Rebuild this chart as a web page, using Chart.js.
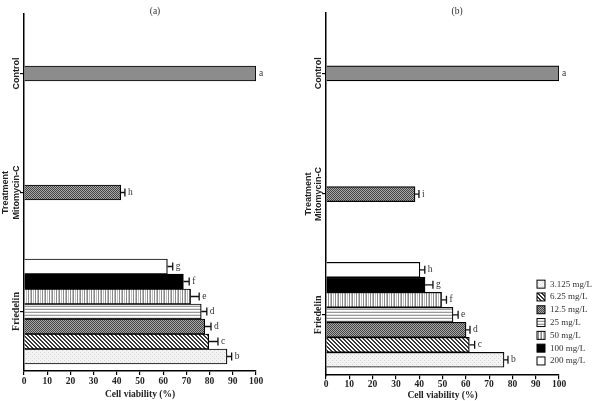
<!DOCTYPE html>
<html>
<head>
<meta charset="utf-8">
<script src="https://cdn.jsdelivr.net/npm/chart.js@4.4.1/dist/chart.umd.min.js"></script>
<style>
  html, body { margin: 0; padding: 0; background: #fff; }
  #wrap { position: relative; width: 603px; height: 401px; }
  #chartA { position: absolute; left: 0; top: 0; }
  #chartB { position: absolute; left: 300px; top: 0; }
</style>
</head>
<body>
<div id="wrap">
  <canvas id="chartA" width="300" height="401"></canvas>
  <canvas id="chartB" width="303" height="401"></canvas>
</div>
<script>
// categories on the y axis
var categories = ['Control', 'Mitomycin-C', 'Friedelin'];
var yTitle = 'Treatment';
var xTitle = 'Cell viability (%)';
var concentrations = ['3.125 mg/L', '6.25 mg/L', '12.5 mg/L', '25 mg/L', '50 mg/L', '100 mg/L', '200 mg/L'];

// panel (a)
var controlA = 100;
var mitoA = 41.7, mitoErrA = 1.8, mitoLetterA = 'h';
var friedelinA = [87.5, 79.6, 77.9, 76.4, 71.8, 68.7, 61.8];
var friedelinErrA = [2.0, 4.0, 2.7, 2.4, 3.7, 2.5, 2.3];
var lettersA = ['b', 'c', 'd', 'd', 'e', 'f', 'g'];

// panel (b)
var controlB = 100;
var mitoB = 38.2, mitoErrB = 1.7, mitoLetterB = 'i';
var friedelinB = [76.4, 61.5, 60.1, 54.5, 49.6, 42.5, 40.3];
var friedelinErrB = [1.7, 2.3, 1.7, 2.2, 2.1, 3.4, 2.1];
var lettersB = ['b', 'c', 'd', 'e', 'f', 'g', 'h'];

function pattern(w, h, draw) {
  var c = document.createElement('canvas');
  c.width = w; c.height = h;
  var g = c.getContext('2d');
  draw(g);
  return g.createPattern(c, 'repeat');
}

var fills = {
  dots: pattern(4, 4, function (g) {
    g.fillStyle = '#f3f3f3'; g.fillRect(0, 0, 4, 4);
    g.fillStyle = '#d4d4d4'; g.fillRect(0, 0, 1, 1); g.fillRect(2, 2, 1, 1);
  }),
  diag: pattern(4, 4, function (g) {
    g.fillStyle = '#fff'; g.fillRect(0, 0, 4, 4);
    g.fillStyle = '#3a3a3a';
    for (var y = 0; y < 4; y++) { g.fillRect(y % 4, y, 1, 1); g.fillRect((y + 1) % 4, y, 1, 1); }
  }),
  check: pattern(2, 2, function (g) {
    g.fillStyle = '#a8a8a8'; g.fillRect(0, 0, 2, 2);
    g.fillStyle = '#454545'; g.fillRect(0, 0, 1, 1); g.fillRect(1, 1, 1, 1);
  }),
  hlines: pattern(1, 3, function (g) {
    g.fillStyle = '#fff'; g.fillRect(0, 0, 1, 3);
    g.fillStyle = '#9a9a9a'; g.fillRect(0, 0, 1, 1);
    g.fillStyle = '#e2e2e2'; g.fillRect(0, 2, 1, 1);
  }),
  vlines: pattern(7, 1, function (g) {
    g.fillStyle = '#fff'; g.fillRect(0, 0, 7, 1);
    g.fillStyle = '#8a8a8a'; g.fillRect(0, 0, 1, 1); g.fillRect(3, 0, 1, 1);
    g.fillStyle = '#bdbdbd'; g.fillRect(2, 0, 1, 1); g.fillRect(5, 0, 1, 1);
  })
};
var concFills = [fills.dots, fills.diag, fills.check, fills.hlines, fills.vlines, '#000', '#fff'];

function buildDatasets(control, mito, mitoErr, mitoLetter, fried, friedErr, letters) {
  var ds = [];
  ds.push({ label: 'Control', data: [control, null, null], errs: [0, null, null],
            letters: ['a', null, null], backgroundColor: '#8c8c8c' });
  ds.push({ label: 'Mitomycin-C', data: [null, mito, null], errs: [null, mitoErr, null],
            letters: [null, mitoLetter, null], backgroundColor: fills.check });
  // top bar is 200 mg/L, bottom is 3.125 mg/L
  for (var i = concentrations.length - 1; i >= 0; i--) {
    ds.push({ label: concentrations[i], data: [null, null, fried[i]], errs: [null, null, friedErr[i]],
              letters: [null, null, letters[i]], backgroundColor: concFills[i] });
  }
  ds.forEach(function (d) {
    d.borderColor = '#000';
    d.borderWidth = 1.2;
    d.barThickness = 15;
    d.skipNull = true;
  });
  return ds;
}

var marksPlugin = {
  id: 'marks',
  afterDatasetsDraw: function (chart) {
    var ctx = chart.ctx, xs = chart.scales.x;
    ctx.save();
    chart.data.datasets.forEach(function (ds, di) {
      var meta = chart.getDatasetMeta(di);
      ds.data.forEach(function (v, i) {
        if (v === null) return;
        var bar = meta.data[i];
        var end = bar.x;
        var err = ds.errs[i];
        if (err) {
          var ex = xs.getPixelForValue(v + err);
          ctx.strokeStyle = '#111';
          ctx.lineWidth = 1.3;
          ctx.beginPath();
          ctx.moveTo(end, bar.y); ctx.lineTo(ex, bar.y);
          ctx.moveTo(ex, bar.y - 4); ctx.lineTo(ex, bar.y + 4);
          ctx.stroke();
          end = ex;
        }
        ctx.fillStyle = '#333';
        ctx.font = '9.5px "Liberation Serif"';
        ctx.textBaseline = 'middle';
        ctx.textAlign = 'left';
        ctx.fillText(ds.letters[i], end + 3, bar.y);
      });
    });
    ctx.restore();
  },
  afterDraw: function (chart) {
    var ctx = chart.ctx, ys = chart.scales.y, area = chart.chartArea;
    ctx.save();
    // rotated category labels
    chart.data.labels.forEach(function (lab, i) {
      var y = ys.getPixelForTick(i);
      ctx.save();
      ctx.translate(area.left - 7.5, y);
      ctx.rotate(-Math.PI / 2);
      ctx.textAlign = 'center';
      ctx.textBaseline = 'middle';
      ctx.fillStyle = '#222';
      ctx.font = lab === 'Friedelin' ? 'bold 10px "Liberation Serif"' : 'bold 9px "Liberation Sans"';
      ctx.fillText(lab, 0, 0);
      ctx.restore();
    });
    // panel letter
    ctx.fillStyle = '#333';
    ctx.font = '9.5px "Liberation Serif"';
    ctx.textAlign = 'center';
    ctx.textBaseline = 'middle';
    ctx.fillText(chart.options.panelTag, area.left + 131, 11);
    // legend
    if (chart.options.showKey) {
      concentrations.forEach(function (c, i) {
        var cy = area.bottom - 91 + i * 12.8;
        var bx = area.right - 22;
        ctx.fillStyle = concFills[i];
        ctx.fillRect(bx, cy - 4, 8, 8);
        ctx.strokeStyle = '#000';
        ctx.lineWidth = 1;
        ctx.strokeRect(bx, cy - 4, 8, 8);
        ctx.fillStyle = '#333';
        ctx.font = '9px "Liberation Serif"';
        ctx.textAlign = 'left';
        ctx.fillText(c, bx + 13, cy);
      });
    }
    ctx.restore();
  }
};

function makeChart(id, datasets, tag, key, pad) {
  return new Chart(document.getElementById(id), {
    type: 'bar',
    data: { labels: categories, datasets: datasets },
    options: {
      indexAxis: 'y',
      responsive: false,
      animation: false,
      devicePixelRatio: 1,
      panelTag: tag,
      showKey: key,
      layout: { padding: pad.layout },
      plugins: { legend: { display: false }, tooltip: { enabled: false } },
      scales: {
        x: {
          min: 0, max: 100,
          ticks: { stepSize: 10, color: '#222', padding: pad.tickPad,
                   font: { family: 'Liberation Serif', weight: 'bold', size: 9.5, lineHeight: 1.2 } },
          grid: { drawOnChartArea: false, tickLength: 4, color: '#000', lineWidth: 1.2 },
          border: { color: '#000', width: 1.5 },
          title: { display: true, text: xTitle, color: '#222', padding: { top: 0, bottom: 0 },
                   font: { family: 'Liberation Serif', weight: 'bold', size: 9.5, lineHeight: pad.titleLH } }
        },
        y: {
          ticks: { display: false },
          grid: { drawOnChartArea: false, offset: false, tickLength: 4, color: '#000', lineWidth: 1.2 },
          border: { color: '#000', width: 1.5 },
          title: { display: true, text: yTitle, color: '#222', padding: { top: 0, bottom: pad.yTitlePad },
                   font: { family: 'Liberation Sans', weight: 'bold', size: 9, lineHeight: 1.2 } }
        }
      }
    },
    plugins: [marksPlugin]
  });
}

makeChart('chartA',
  buildDatasets(controlA, mitoA, mitoErrA, mitoLetterA, friedelinA, friedelinErrA, lettersA),
  '(a)', false,
  { layout: { left: 0, right: 44, top: 14, bottom: 1.2 }, tickPad: 1, titleLH: 1.2, yTitlePad: 9.2 });

makeChart('chartB',
  buildDatasets(controlB, mitoB, mitoErrB, mitoLetterB, friedelinB, friedelinErrB, lettersB),
  '(b)', true,
  { layout: { left: 3, right: 44, top: 13, bottom: 0 }, tickPad: 0, titleLH: 1.1, yTitlePad: 8.2 });
</script>
</body>
</html>
